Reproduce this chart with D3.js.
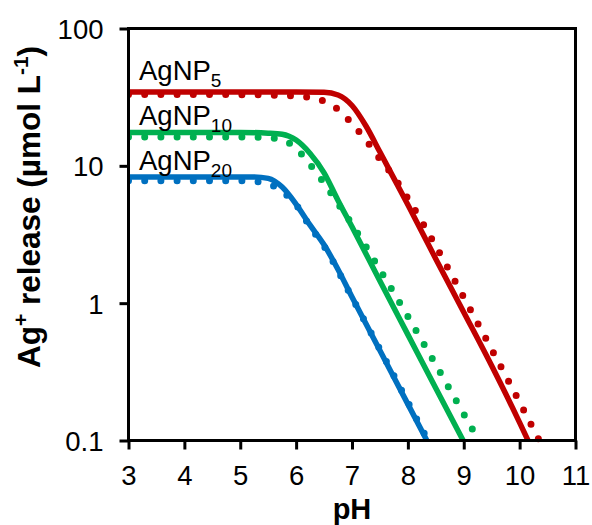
<!DOCTYPE html>
<html>
<head>
<meta charset="utf-8">
<script src="https://cdn.jsdelivr.net/npm/d3@7"></script>
<style>
  html, body { margin: 0; padding: 0; background: #fff; }
  svg { display: block; font-family: "Liberation Sans", Arial, sans-serif; }
</style>
</head>
<body>
<svg id="chart" width="592" height="525"></svg>
<script>
// ---- data ----
const xTicks = [3, 4, 5, 6, 7, 8, 9, 10, 11];
const yTicks = [0.1, 1, 10, 100];
const yTickLabels = ["0.1", "1", "10", "100"];

const seriesNames = ["AgNP5", "AgNP10", "AgNP20"];

// AgNP5 (red)
const phRedFit = [3, 4, 5, 6, 6.5, 6.75, 7, 7.25, 7.5, 7.75, 8, 8.5, 9, 9.5, 10, 10.15];
const redFit   = [34.5, 34.5, 34.5, 34.5, 34.3, 32.8, 27.5, 19.5, 12.6, 8.1, 5.2, 2.1, 0.86, 0.35, 0.135, 0.1];
const phRedDot = [3, 4, 5, 5.5, 6, 6.25, 6.5, 6.75, 7, 7.25, 7.5, 7.75, 8, 8.5, 9, 9.5, 10, 10.35];
const redDot   = [33, 33, 33, 32.8, 32.2, 31.5, 29.5, 25.7, 20.3, 15.4, 11.2, 8.3, 5.8, 2.6, 1.1, 0.46, 0.19, 0.1];

// AgNP10 (green)
const phGreenFit = [3, 4, 5, 5.5, 5.75, 6, 6.25, 6.5, 6.75, 7, 7.5, 8, 8.5, 8.99];
const greenFit   = [17.5, 17.5, 17.5, 17.3, 17.0, 15.4, 12.3, 8.9, 5.6, 3.6, 1.45, 0.59, 0.24, 0.1];
const phGreenDot = [3, 4, 5, 5.5, 5.75, 6, 6.25, 6.5, 6.75, 7, 7.5, 8, 8.5, 9, 9.27];
const greenDot   = [16.2, 16.2, 16.2, 16.0, 15.5, 13.4, 10.2, 7.5, 5.3, 3.75, 1.75, 0.8, 0.356, 0.156, 0.1];

// AgNP20 (blue)
const phBlueFit = [3, 4, 5, 5.25, 5.5, 5.75, 6, 6.25, 6.5, 6.75, 7, 7.5, 8, 8.34];
const blueFit   = [8.3, 8.3, 8.3, 8.3, 8.1, 7.0, 5.25, 3.7, 2.66, 1.76, 1.11, 0.452, 0.184, 0.1];
const phBlueDot = [3, 4, 5, 5.25, 5.5, 5.75, 6, 6.25, 6.5, 7, 7.5, 8, 8.36];
const blueDot   = [7.8, 7.8, 7.8, 7.7, 7.4, 6.5, 5.2, 3.6, 2.6, 1.1, 0.46, 0.19, 0.1];

const colors = ["#C00000", "#00B050", "#0070C0"];

// ---- layout ----
const svg = d3.select("#chart");
const pLeft = 128.5, pRight = 575.5, pTop = 28.5, pBottom = 440.5;

const x = d3.scaleLinear().domain([3, 11]).range([pLeft, pRight]);
const y = d3.scaleLog().domain([0.1, 100]).range([pBottom, pTop]);

const zip = (xs, ys) => xs.map((v, i) => ({ ph: v, v: ys[i] }));

const fits = [zip(phRedFit, redFit), zip(phGreenFit, greenFit), zip(phBlueFit, blueFit)];
const dots = [zip(phRedDot, redDot), zip(phGreenDot, greenDot), zip(phBlueDot, blueDot)];

svg.append("defs").append("clipPath").attr("id", "clip")
  .append("rect").attr("x", pLeft).attr("y", pTop - 10).attr("width", pRight - pLeft).attr("height", pBottom - pTop + 14);

const line = d3.line().x(d => x(d.ph)).y(d => y(d.v)).curve(d3.curveMonotoneX);

const g = svg.append("g").attr("clip-path", "url(#clip)");

fits.forEach((s, i) => {
  g.append("path").datum(s)
    .attr("d", line)
    .attr("fill", "none")
    .attr("stroke", colors[i])
    .attr("stroke-width", 5.5)
    .attr("stroke-linejoin", "round");
});
dots.forEach((s, i) => {
  g.append("path").datum(s)
    .attr("d", line)
    .attr("fill", "none")
    .attr("stroke", colors[i])
    .attr("stroke-width", 7)
    .attr("stroke-linecap", "round")
    .attr("stroke-dasharray", "0 16.2");
});

// ---- axes ----
const axisW = 3;
const yAxis = d3.axisLeft(y).tickValues(yTicks).tickFormat((d, i) => yTickLabels[i]).tickSize(9).tickPadding(16);
const xAxis = d3.axisBottom(x).tickValues(xTicks).tickFormat(d3.format("d")).tickSize(9).tickPadding(16);

const ya = svg.append("g").attr("transform", `translate(${pLeft},0)`).call(yAxis);
const xa = svg.append("g").attr("transform", `translate(0,${pBottom})`).call(xAxis);
[ya, xa].forEach(a => {
  a.select(".domain").remove();
  a.selectAll(".tick line").attr("stroke", "#000").attr("stroke-width", axisW);
  a.selectAll(".tick text").attr("fill", "#000").attr("font-size", 27.5)
    .attr("font-family", "'Liberation Sans', Arial, sans-serif");
});
ya.selectAll(".tick text").attr("dy", "0.36em");

// frame
svg.append("rect")
  .attr("x", pLeft).attr("y", pTop)
  .attr("width", pRight - pLeft).attr("height", pBottom - pTop)
  .attr("fill", "none").attr("stroke", "#000").attr("stroke-width", axisW);

// ---- series labels ----
const labelY = [79.5, 124.5, 169.5];
const subs = ["5", "10", "20"];
seriesNames.forEach((n, i) => {
  const t = svg.append("text").attr("x", 139).attr("y", labelY[i])
    .attr("font-size", 27.5).attr("fill", "#000");
  t.append("tspan").text("AgNP");
  t.append("tspan").attr("dy", 7.5).attr("font-size", 19).text(subs[i]);
});

// ---- axis titles ----
svg.append("text")
  .attr("x", (pLeft + pRight) / 2).attr("y", 519)
  .attr("text-anchor", "middle").attr("font-weight", "bold").attr("font-size", 29)
  .text("pH");

const yt = svg.append("text")
  .attr("transform", `translate(40,207) rotate(-90)`)
  .attr("text-anchor", "middle").attr("font-weight", "bold").attr("font-size", 31.5);
yt.append("tspan").text("Ag");
yt.append("tspan").attr("dy", -12).attr("font-size", 21).text("+");
yt.append("tspan").attr("dy", 12).text(" release (µmol L");
yt.append("tspan").attr("dy", -12).attr("font-size", 21).text("-1");
yt.append("tspan").attr("dy", 12).text(")");
</script>
</body>
</html>
